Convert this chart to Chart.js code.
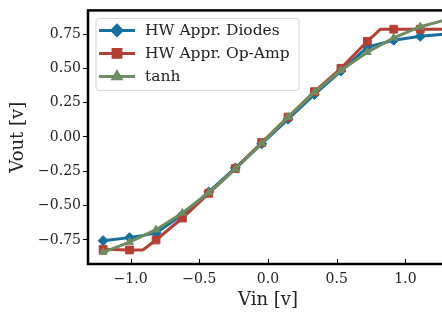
<!DOCTYPE html>
<html>
<head>
<meta charset="utf-8">
<script src="https://cdn.jsdelivr.net/npm/chart.js@4.4.1/dist/chart.umd.min.js"></script>
<style>
  html, body { margin: 0; padding: 0; background: #fff; overflow: hidden; }
  #wrap { width: 460px; height: 312px; }
</style>
</head>
<body>
<div id="wrap"><canvas id="vChart" width="460" height="312"></canvas></div>
<script>
// Input voltages where the markers sit
const vin = [-1.2, -1.008, -0.815, -0.623, -0.431, -0.238, -0.046, 0.146, 0.338, 0.531, 0.723, 0.915, 1.108, 1.3];
const diodesOut = [-0.755, -0.733, -0.70, -0.565, -0.40, -0.225, -0.05, 0.13, 0.31, 0.48, 0.655, 0.705, 0.733, 0.75];
const tanhOut = [-0.84, -0.765, -0.675, -0.553, -0.406, -0.234, -0.046, 0.145, 0.326, 0.486, 0.617, 0.722, 0.803, 0.855];
// the op-amp curve has two extra corners between markers (saturation)
const opAmpVin = [-1.2, -1.008, -0.911, -0.815, -0.623, -0.431, -0.238, -0.046, 0.146, 0.338, 0.531, 0.723, 0.819, 0.915, 1.108, 1.3];
const opAmpOut = [-0.818, -0.823, -0.823, -0.75, -0.59, -0.41, -0.23, -0.04, 0.145, 0.33, 0.50, 0.697, 0.785, 0.785, 0.785, 0.785];

const seriesNames = ['HW Appr. Diodes', 'HW Appr. Op-Amp', 'tanh'];
const xTicks = [-1.0, -0.5, 0.0, 0.5, 1.0];
const yTicks = [-0.75, -0.5, -0.25, 0.0, 0.25, 0.5, 0.75];

const BLUE = '#16709f';
const RED = '#b43f33';
const GREEN = '#6e8c62';
const SERIF = "'DejaVu Serif', serif";

function pts(xs, ys) {
    return xs.map((x, i) => ({ x: x, y: ys[i] }));
}

function fmt(v, d) {
    return v.toFixed(d).replace('-', '\u2212');
}

// frame round the plot area + x ticks pointing inward
const framePlugin = {
    id: 'frame',
    afterDraw(chart) {
        const { ctx, chartArea: a } = chart;
        const xs = chart.scales.x;
        ctx.save();
        ctx.strokeStyle = '#000';
        ctx.lineWidth = 1;
        xTicks.forEach(v => {
            const px = Math.round(xs.getPixelForValue(v)) + 0.5;
            ctx.beginPath();
            ctx.moveTo(px, a.bottom);
            ctx.lineTo(px, a.bottom - 5);
            ctx.stroke();
        });
        ctx.lineWidth = 2.5;
        ctx.strokeRect(a.left, a.top, a.right - a.left, a.bottom - a.top);
        ctx.restore();
    }
};

// matplotlib style legend: framed box with line + marker handles
const legendPlugin = {
    id: 'mplLegend',
    afterDraw(chart) {
        const ctx = chart.ctx;
        const a = chart.chartArea;
        const bx = a.left + 8, by = a.top + 8, bw = 203, bh = 72;
        ctx.save();
        ctx.beginPath();
        ctx.roundRect(bx, by, bw, bh, 3);
        ctx.fillStyle = 'rgba(255,255,255,0.8)';
        ctx.fill();
        ctx.strokeStyle = '#d6d6d6';
        ctx.lineWidth = 1;
        ctx.stroke();
        seriesNames.forEach((name, i) => {
            const ds = chart.data.datasets.find(d => d.label === name);
            const y = by + 12 + i * 23;
            ctx.strokeStyle = ds.borderColor;
            ctx.lineWidth = 3;
            ctx.beginPath();
            ctx.moveTo(bx + 3, y);
            ctx.lineTo(bx + 39, y);
            ctx.stroke();
            ctx.fillStyle = ds.borderColor;
            Chart.helpers.drawPoint(ctx, {
                pointStyle: ds.pointStyle,
                radius: ds.legendRadius,
                rotation: 0,
                borderWidth: 1
            }, bx + 21, y);
            ctx.fillStyle = '#222';
            ctx.font = '15.5px ' + SERIF;
            ctx.textBaseline = 'middle';
            ctx.textAlign = 'left';
            ctx.fillText(ds.label, bx + 49, y + 1);
        });
        ctx.restore();
    }
};

new Chart(document.getElementById('vChart'), {
    type: 'line',
    data: {
        datasets: [
            {
                label: seriesNames[0],
                data: pts(vin, diodesOut),
                borderColor: BLUE,
                backgroundColor: BLUE,
                borderWidth: 3,
                pointStyle: 'rectRot',
                pointRadius: 5,
                legendRadius: 5,
                pointBorderWidth: 1,
                order: 2
            },
            {
                label: seriesNames[1],
                data: pts(opAmpVin, opAmpOut),
                borderColor: RED,
                backgroundColor: RED,
                borderWidth: 3,
                pointStyle: 'rect',
                pointRadius: c => (c.raw && vin.includes(c.raw.x)) ? 5.5 : 0,
                legendRadius: 5.5,
                pointBorderWidth: 1,
                order: 1
            },
            {
                label: seriesNames[2],
                data: pts(vin, tanhOut),
                borderColor: GREEN,
                backgroundColor: GREEN,
                borderWidth: 3,
                pointStyle: 'triangle',
                pointRadius: 4.5,
                legendRadius: 4.5,
                pointBorderWidth: 1,
                order: 0
            }
        ]
    },
    options: {
        responsive: false,
        animation: false,
        layout: { padding: { top: 7, right: 12, left: 0, bottom: 0 } },
        elements: { line: { tension: 0 } },
        scales: {
            x: {
                type: 'linear',
                min: -1.31,
                max: 1.31,
                afterFit: s => { s.height = 48; },
                afterBuildTicks: s => { s.ticks = xTicks.map(v => ({ value: v })); },
                grid: { display: false, drawTicks: false, tickLength: 0 },
                border: { display: false },
                ticks: {
                    color: '#222',
                    font: { family: SERIF, size: 14 },
                    padding: 7,
                    maxRotation: 0,
                    callback: v => fmt(v, 1)
                },
                title: {
                    display: true,
                    text: 'Vin [v]',
                    color: '#222',
                    font: { family: SERIF, size: 18 },
                    padding: { top: 0, bottom: 1 }
                }
            },
            y: {
                min: -0.925,
                max: 0.922,
                afterFit: s => { s.width = 88; },
                afterBuildTicks: s => { s.ticks = yTicks.map(v => ({ value: v })); },
                grid: {
                    display: true,
                    drawOnChartArea: false,
                    drawTicks: true,
                    tickLength: 5,
                    color: '#000',
                    lineWidth: 1
                },
                border: { display: false },
                ticks: {
                    color: '#222',
                    font: { family: SERIF, size: 14 },
                    padding: 2,
                    callback: v => fmt(v, 2)
                },
                title: {
                    display: true,
                    text: 'Vout [v]',
                    color: '#222',
                    font: { family: SERIF, size: 18 },
                    padding: { top: 8, bottom: 0 }
                }
            }
        },
        plugins: {
            legend: { display: false },
            tooltip: { enabled: false }
        }
    },
    plugins: [framePlugin, legendPlugin]
});
</script>
</body>
</html>
